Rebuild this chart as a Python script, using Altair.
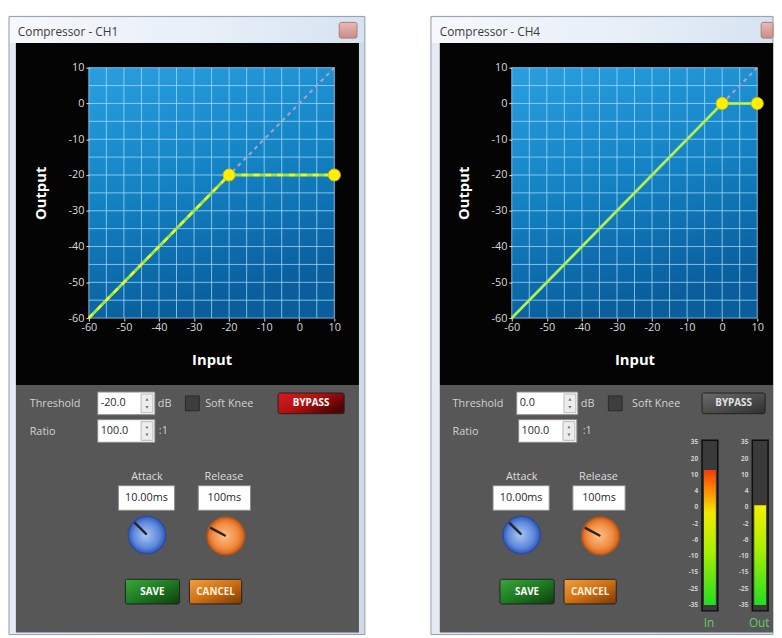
import math
import altair as alt
import pandas as pd

FONT = "Open Sans"

# ---------------- data ----------------
panel_titles = ["Compressor - CH1", "Compressor - CH4"]
threshold_text = ["-20.0", "0.0"]
ratio_text = ["100.0", "100.0"]
attack_text = ["10.00ms", "10.00ms"]
release_text = ["100ms", "100ms"]

grid_ticks = [-60, -55, -50, -45, -40, -35, -30, -25, -20, -15, -10, -5, 0, 5, 10]
axis_ticks = [-60, -50, -40, -30, -20, -10, 0, 10]
unity_in = [-60, 10]
unity_out = [-60, 10]
ch1_in = [-60, -20, 10]
ch1_out = [-60, -20, -20]
ch1_knee_in = [-20, 10]
ch1_knee_out = [-20, -20]
ch4_in = [-60, 0, 10]
ch4_out = [-60, 0, 0]
ch4_knee_in = [0, 10]
ch4_knee_out = [0, 0]
meter_ticks = [35, 20, 10, 4, 0, -2, -6, -10, -15, -25, -35]
meter_names = ["In", "Out"]
meter_levels = [13, 0.5]

# ---------------- helpers ----------------
W, H = 249, 254
ONE = pd.DataFrame({"k": [0]})


def lin(stops, x2=0, y2=1):
    return {"gradient": "linear", "x1": 0, "y1": 0, "x2": x2, "y2": y2,
            "stops": [{"offset": o, "color": c} for o, c in stops]}


def rad(stops):
    return {"gradient": "radial", "x1": 0.45, "y1": 0.5, "r1": 0,
            "x2": 0.5, "y2": 0.5, "r2": 0.5,
            "stops": [{"offset": o, "color": c} for o, c in stops]}


def box(x0, y0, x1, y1, fill, stroke=None, sw=1.0, r=0):
    kw = {"fill": fill, "cornerRadius": r}
    if stroke is None:
        kw["strokeWidth"] = 0
    else:
        kw["stroke"] = stroke
        kw["strokeWidth"] = sw
    return alt.Chart(ONE).mark_rect(**kw).encode(
        x=alt.value(x0), x2=alt.value(x1), y=alt.value(y0), y2=alt.value(y1))


def txt(x, y, s, size=11, color="#d2d2d2", align="left", weight="normal"):
    return alt.Chart(ONE).mark_text(
        text=s, fontSize=size, color=color, align=align, baseline="middle",
        font=FONT, fontWeight=weight).encode(x=alt.value(x), y=alt.value(y))


def tri(x, y, shape):
    return alt.Chart(ONE).mark_point(
        shape=shape, size=10, filled=True, fill="#707070", opacity=1,
        strokeWidth=0).encode(x=alt.value(x), y=alt.value(y))


def seg(x0, y0, x1, y1, color="#262626", w=2.5):
    return alt.Chart(ONE).mark_rule(stroke=color, strokeWidth=w, strokeCap="round").encode(
        x=alt.value(x0), y=alt.value(y0), x2=alt.value(x1), y2=alt.value(y1))


def input_box(x0, y0, x1, y1, value):
    return [box(x0, y0, x1, y1, fill="#ffffff", stroke="#8a8a8a"),
            txt(x0 + 3, (y0 + y1) / 2, value, size=11, color="#2a2a2a"),
            box(x1 - 14, y0 + 2, x1 - 2, y1 - 2, fill="#ededed", stroke="#b8b8b8"),
            tri(x1 - 8, y0 + 7.5, "triangle-up"),
            tri(x1 - 8, y1 - 7.5, "triangle-down")]


def knob(cx, cy, grad, stroke, p):
    r = 21.5
    c = alt.Chart(ONE).mark_circle(size=math.pi * r * r, fill=grad, stroke=stroke,
                                   strokeWidth=1.5, opacity=1, fillOpacity=1).encode(
        x=alt.value(cx), y=alt.value(cy))
    return [c, seg(cx + p[0], cy + p[1], cx + p[2], cy + p[3])]


def button(x0, y0, x1, y1, grad, label, tcolor="#ffffff", stroke="#222222"):
    return [box(x0, y0, x1, y1, fill=grad, stroke=stroke, r=2),
            txt((x0 + x1) / 2, (y0 + y1) / 2, label, size=10, color=tcolor,
                align="center", weight="bold")]


XS = alt.Scale(domain=[-60, 10], nice=False, zero=False)
YS = alt.Scale(domain=[-60, 10], nice=False, zero=False)

BLUE = lin([(0, "#2a9fe0"), (0.5, "#1483c4"), (1, "#0a5e9c")], x2=0.25, y2=1)
FRAME = lin([(0, "#e4ebf3"), (1, "#cfdae7")], x2=1, y2=0)
TITLE = lin([(0, "#f6f8fb"), (0.6, "#e6eef7"), (1, "#d6e3f1")], x2=1, y2=0)
CLOSE = lin([(0, "#e6bcb7"), (1, "#c98c86")])
GREEN = lin([(0, "#3aa63a"), (0.5, "#1f7a22"), (1, "#0d3d0d")], x2=1, y2=1)
ORANGE = lin([(0, "#f2a040"), (0.5, "#cf6f14"), (1, "#7a3806")], x2=1, y2=1)
RED = lin([(0, "#d81c1c"), (0.5, "#b51010"), (1, "#520404")], x2=1, y2=0.6)
DARKB = lin([(0, "#6a6a6a"), (1, "#303030")], x2=1, y2=1)
KBLUE = rad([(0, "#a9c6f5"), (0.7, "#5d88dc"), (1, "#2f58b5")])
KORANGE = rad([(0, "#ffc08a"), (0.7, "#f08a3e"), (1, "#cf5f18")])
METER_IN = lin([(0, "#f03a0a"), (0.12, "#ff7a00"), (0.32, "#f2ea00"),
                (0.6, "#a8f000"), (1, "#22dd22")])
METER_OUT = lin([(0, "#f2f000"), (0.4, "#b2f000"), (1, "#22dd22")])


def plot_layers(c_in, c_out, k_in, k_out, dashed):
    L = [box(0, 0, W, H, fill=BLUE)]
    g = pd.DataFrame({"g": grid_ticks})
    L.append(alt.Chart(g).mark_rule(stroke="#a6e0ff", strokeWidth=1, opacity=0.75).encode(
        x=alt.X("g:Q", scale=XS, axis=None), y=alt.value(0), y2=alt.value(H)))
    L.append(alt.Chart(g).mark_rule(stroke="#a6e0ff", strokeWidth=1, opacity=0.75).encode(
        y=alt.Y("g:Q", scale=YS, axis=None), x=alt.value(0), x2=alt.value(W)))
    u = pd.DataFrame({"i": unity_in, "o": unity_out})
    L.append(alt.Chart(u).mark_line(stroke="#aaa3cc", strokeWidth=2, strokeDash=[4, 4]).encode(
        x=alt.X("i:Q", scale=XS, axis=None), y=alt.Y("o:Q", scale=YS, axis=None)))
    c = pd.DataFrame({"i": c_in, "o": c_out})
    L.append(alt.Chart(c).mark_line(stroke="#8fe35a", strokeWidth=3).encode(
        x=alt.X("i:Q", scale=XS, axis=None), y=alt.Y("o:Q", scale=YS, axis=None)))
    if dashed:
        L.append(alt.Chart(c).mark_line(stroke="#f3f31c", strokeWidth=2.5, strokeDash=[6, 6]).encode(
            x=alt.X("i:Q", scale=XS, axis=None), y=alt.Y("o:Q", scale=YS, axis=None)))
    else:
        L.append(alt.Chart(c).mark_line(stroke="#c8f05a", strokeWidth=1.2).encode(
            x=alt.X("i:Q", scale=XS, axis=None), y=alt.Y("o:Q", scale=YS, axis=None)))
    k = pd.DataFrame({"i": k_in, "o": k_out})
    L.append(alt.Chart(k).mark_circle(size=150, fill="#fff000", stroke="#d9c400",
                                      strokeWidth=1, opacity=1).encode(
        x=alt.X("i:Q", scale=XS, axis=None), y=alt.Y("o:Q", scale=YS, axis=None)))
    a = pd.DataFrame({"i": axis_ticks, "o": axis_ticks})
    lab = "'' + datum.value"
    L.append(alt.Chart(a).mark_point(opacity=0).encode(
        x=alt.X("i:Q", scale=XS, axis=alt.Axis(
            values=axis_ticks, orient="bottom", title="Input", grid=False, domain=False,
            tickSize=3, tickColor="#e6e6e6", labelColor="#d9d9d9", labelFont=FONT,
            labelFontSize=11, labelPadding=1, labelExpr=lab, labelFlush=False,
            labelOverlap=False, titleColor="#ffffff", titleFont=FONT, titleFontSize=15,
            titleFontWeight="bold", titlePadding=20, zindex=1)),
        y=alt.Y("o:Q", scale=YS, axis=alt.Axis(
            values=axis_ticks, orient="left", title="Output", grid=False, domain=False,
            tickSize=3, tickColor="#e6e6e6", labelColor="#d9d9d9", labelFont=FONT,
            labelFontSize=11, labelPadding=2, labelExpr=lab, labelFlush=False,
            labelOverlap=False, titleColor="#ffffff", titleFont=FONT, titleFontSize=15,
            titleFontWeight="bold", titlePadding=20, zindex=1))))
    return L


def meters_layers():
    pos = [380 + 16.5 * n for n in range(len(meter_ticks))]
    ms = alt.Scale(domain=meter_ticks[::-1], range=pos[::-1], nice=False, zero=False)
    L = []
    specs = [(193, 189, METER_IN), (244, 240, METER_OUT)]
    for j, (fx, lx, grad) in enumerate(specs):
        L.append(box(fx, 378, fx + 16, 551, fill="#3a3a3a", stroke="#0e0e0e", sw=1.5))
        lv = pd.DataFrame({"level": [meter_levels[j]], "floor": [meter_ticks[-1]]})
        L.append(alt.Chart(lv).mark_rect(fill=grad, strokeWidth=0).encode(
            x=alt.value(fx + 2), x2=alt.value(fx + 14),
            y=alt.Y("level:Q", scale=ms, axis=None), y2="floor:Q"))
        md = pd.DataFrame({"v": meter_ticks, "lab": [str(v) for v in meter_ticks]})
        L.append(alt.Chart(md).mark_text(align="right", baseline="middle", fontSize=6.5,
                                         color="#cfcfcf", font=FONT, fontWeight="bold").encode(
            x=alt.value(lx), y=alt.Y("v:Q", scale=ms, axis=None), text="lab:N"))
        L.append(txt(fx + 7, 563, meter_names[j], size=12, color="#5fd05f", align="center"))
    return L


def panel(i, c_in, c_out, k_in, k_out, frame_x, black_x, close_x, ldx, top, dashed, meters):
    fx0, fx1 = frame_x
    bx0, bx1 = black_x
    L = [box(fx0, -52, fx1, 575, fill=FRAME, stroke="#8e9cae"),
         box(fx0 + 1, -51, fx1 - 1, -25, fill=TITLE),
         txt(fx0 + 9, -36, panel_titles[i], size=12, color="#3b3b3b"),
         box(close_x[0], -46, close_x[1], -30, fill=CLOSE, stroke="#b07872", r=2),
         box(bx0, -25, bx1, 322, fill="#040404"),
         box(bx0, 322, bx1, 573, fill="#575757")]
    L += plot_layers(c_in, c_out, k_in, k_out, dashed)
    # top controls
    tb, rb, dbx, cbx, skx, byp, r1x, byp_grad, byp_col = top
    L.append(txt(-60, 341, "Threshold"))
    L += input_box(tb[0], 329, tb[1], 352, threshold_text[i])
    L.append(txt(dbx, 341, "dB"))
    L.append(box(cbx, 333, cbx + 14, 348, fill="#3e3e3e", stroke="#2a2a2a"))
    L.append(txt(skx, 341, "Soft Knee"))
    L += button(byp[0], 330, byp[1], 351, byp_grad, "BYPASS", tcolor=byp_col)
    L.append(txt(-60, 370, "Ratio"))
    L += input_box(rb[0], 357, rb[1], 380, ratio_text[i])
    L.append(txt(r1x, 369, ":1"))
    # lower controls
    d = ldx
    L.append(txt(59 + d, 415, "Attack", align="center", color="#dcdcdc"))
    L.append(txt(137 + d, 415, "Release", align="center", color="#dcdcdc"))
    L.append(box(30 + d, 424, 87 + d, 449, fill="#ffffff", stroke="#8a8a8a"))
    L.append(txt(58.5 + d, 436.5, attack_text[i], color="#2a2a2a", align="center"))
    L.append(box(111 + d, 424, 164 + d, 449, fill="#ffffff", stroke="#8a8a8a"))
    L.append(txt(137.5 + d, 436.5, release_text[i], color="#2a2a2a", align="center"))
    L += knob(59 + d, 474, KBLUE, "#2c4d98", (-12, -12, -1, -1))
    L += knob(139 + d, 475, KORANGE, "#b4561a", (-15, -8, -1, -0.5))
    L += button(37 + d, 519, 92 + d, 544, GREEN, "SAVE")
    L += button(102 + d, 519, 155 + d, 544, ORANGE, "CANCEL", tcolor="#fff2de")
    if meters:
        L += meters_layers()
    return alt.layer(*L).resolve_scale(x="independent", y="independent").properties(
        width=W, height=H)


left = panel(0, ch1_in, ch1_out, ch1_knee_in, ch1_knee_out,
             frame_x=(-81, 280), black_x=(-74, 274), close_x=(254, 272), ldx=0,
             top=((9, 67), (9, 67), 70, 98, 118, (192, 259), 71, RED, "#ffffff"),
             dashed=True, meters=False)
right = panel(1, ch4_in, ch4_out, ch4_knee_in, ch4_knee_out,
              frame_x=(-82, 265), black_x=(-73, 265), close_x=(253, 265), ldx=-49,
              top=((5, 67), (7, 66), 70, 98, 122, (193, 257), 72, DARKB, "#e2e2e2"),
              dashed=False, meters=True)

chart = alt.hconcat(left, right, spacing=65).properties(
    padding={"left": 0, "top": 3, "right": 0, "bottom": 0},
    background="#ffffff",
).configure_view(strokeWidth=0)

chart.save("out.html", embed_options={"renderer": "svg", "actions": False})
